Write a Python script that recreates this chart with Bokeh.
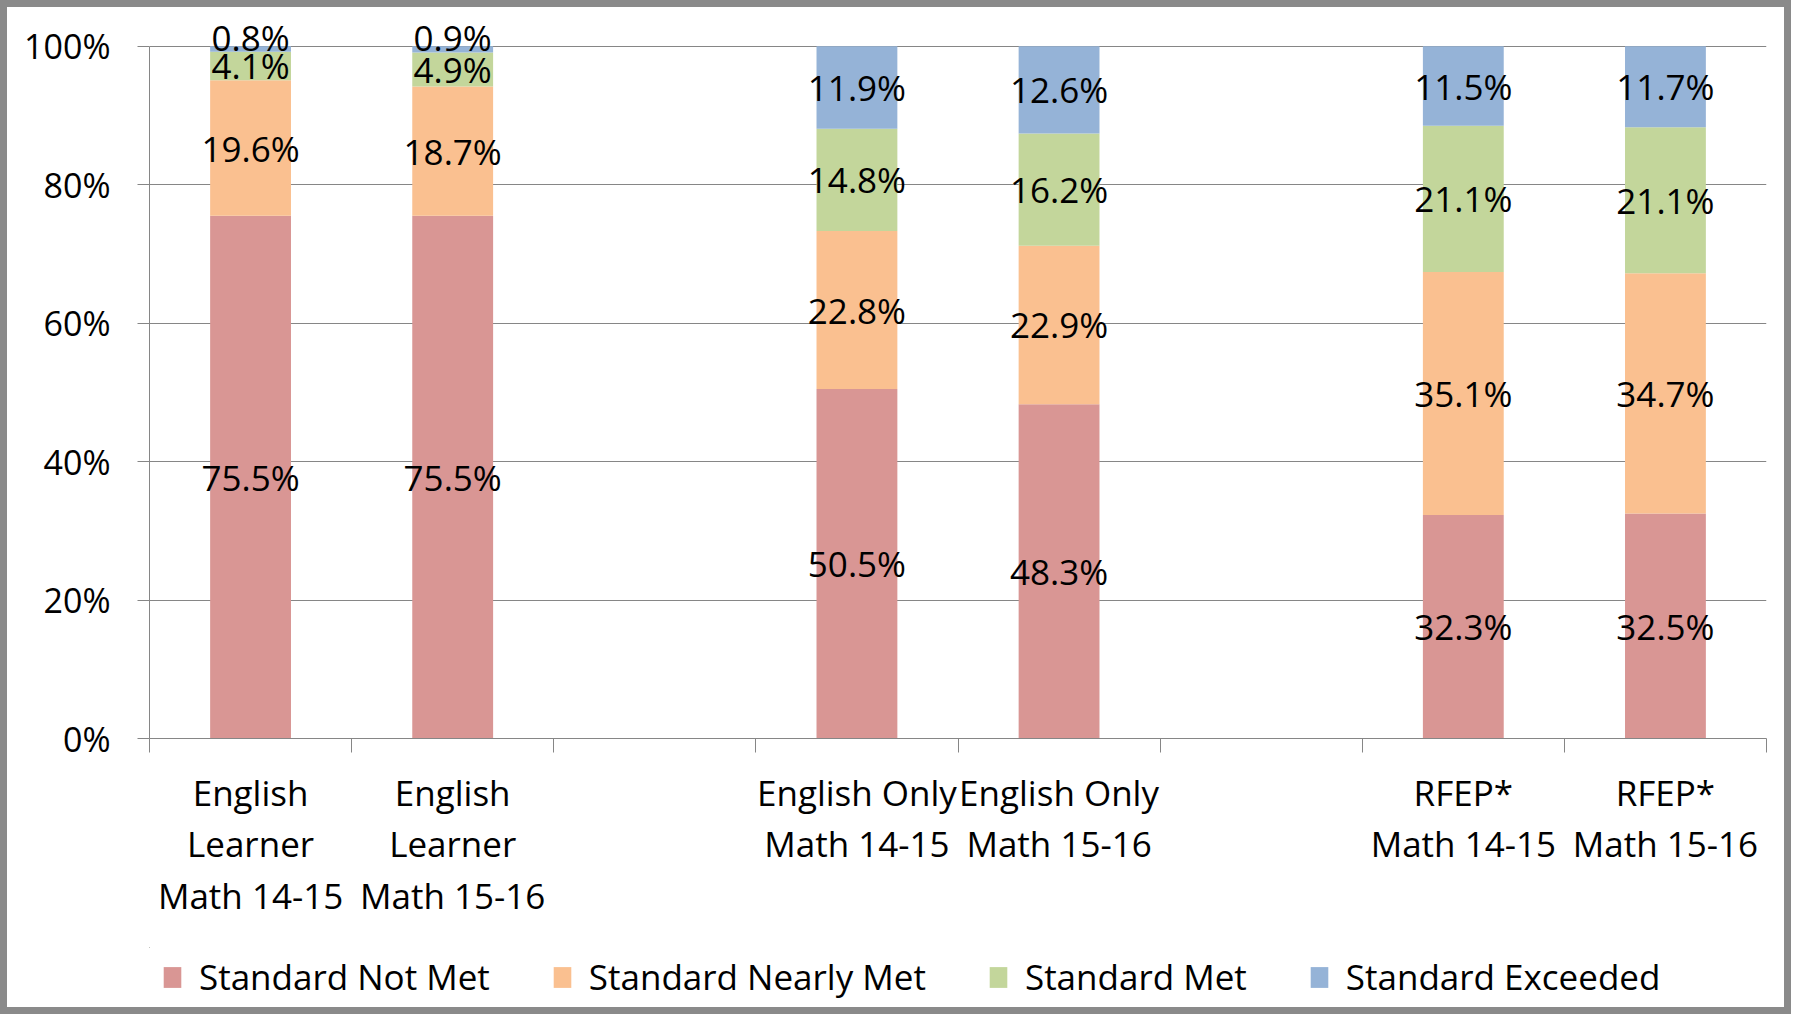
from bokeh.plotting import figure
from bokeh.layouts import column
from bokeh.models import (ColumnDataSource, FixedTicker, PrintfTickFormatter, Legend,
                          LegendItem, Range1d)
from bokeh.core.properties import value
from bokeh.embed import file_html
from bokeh.resources import INLINE

# ---- data ----
categories = ["English\nLearner\nMath 14-15", "English\nLearner\nMath 15-16",
              "English Only\nMath 14-15", "English Only\nMath 15-16",
              "RFEP*\nMath 14-15", "RFEP*\nMath 15-16"]
slot_index = [0, 1, 3, 4, 6, 7]   # slots on the category axis (2 and 5 are empty gaps)
n_slots = 8
not_met = [75.5, 75.5, 50.5, 48.3, 32.3, 32.5]
nearly_met = [19.6, 18.7, 22.8, 22.9, 35.1, 34.7]
met = [4.1, 4.9, 14.8, 16.2, 21.1, 21.1]
exceeded = [0.8, 0.9, 11.9, 12.6, 11.5, 11.7]
series_names = ["Standard Not Met", "Standard Nearly Met", "Standard Met", "Standard Exceeded"]
series_keys = ["not_met", "nearly_met", "met", "exceeded"]
colors = ["#D99694", "#FAC090", "#C3D69B", "#95B3D7"]
y_ticks = [0, 20, 40, 60, 80, 100]

FONT = "Open Sans"
FS = "34px"
FS_L = "35px"
GRAY = "#868686"
W = 1777

xc = [i + 0.5 for i in slot_index]
data = dict(x=xc, not_met=not_met, nearly_met=nearly_met, met=met, exceeded=exceeded)
source = ColumnDataSource(data)

p = figure(width=W, height=940, x_range=(0, n_slots), y_range=(0, 105.6),
           output_backend="svg", toolbar_location=None,
           min_border_left=142, min_border_right=18, min_border_top=0, min_border_bottom=209)
p.outline_line_color = None
p.background_fill_color = "white"
p.border_fill_color = "white"

renderers = p.vbar_stack(series_keys, x="x", width=0.4, color=colors, line_color=None,
                         source=source)

# data labels at segment centers
lx, ly, lt, loff = [], [], [], []
series_vals = [not_met, nearly_met, met, exceeded]
for j, x in enumerate(xc):
    base = 0.0
    for vals in series_vals:
        v = vals[j]
        lx.append(x)
        ly.append(base + v / 2)
        lt.append(f"{v:.1f}%")
        loff.append(-12 if v < 2 else 0)
        base += v
p.text(x=lx, y=ly, text=lt, y_offset=loff, text_align="center", text_baseline="middle",
       text_font=value(FONT), text_font_size=FS_L, text_color="black")

# y axis
ya = p.yaxis[0]
ya.ticker = FixedTicker(ticks=y_ticks)
ya.formatter = PrintfTickFormatter(format="%d%%")
ya.bounds = (0, 100)
ya.axis_line_color = GRAY
ya.major_tick_line_color = GRAY
ya.major_tick_out = 12
ya.major_tick_in = 0
ya.minor_tick_line_color = None
ya.major_label_standoff = 27
ya.major_label_text_font = FONT
ya.major_label_text_font_size = FS
ya.major_label_text_color = "black"

# x axis
xa = p.xaxis[0]
xa.ticker = FixedTicker(ticks=xc, minor_ticks=list(range(n_slots + 1)))
xa.major_label_overrides = {x: c for x, c in zip(xc, categories)}
xa.axis_line_color = GRAY
xa.major_tick_line_color = None
xa.major_tick_out = 0
xa.major_tick_in = 0
xa.minor_tick_line_color = GRAY
xa.minor_tick_out = 14
xa.minor_tick_in = 0
xa.major_label_standoff = 16
xa.major_label_text_font = FONT
xa.major_label_text_font_size = FS_L
xa.major_label_text_color = "black"
xa.major_label_text_line_height = 1.1

p.xgrid.grid_line_color = None
p.ygrid.ticker = FixedTicker(ticks=y_ticks)
p.ygrid.grid_line_color = GRAY

# legend in its own strip below the chart (the strip's ranges are far away from the
# series bars, so only their legend swatches show)
pl = figure(width=W, height=60, x_range=Range1d(1000, 1001), y_range=Range1d(-1000, -999),
            output_backend="svg", toolbar_location=None,
            min_border_left=0, min_border_right=0, min_border_top=0, min_border_bottom=0)
pl.axis.visible = False
pl.grid.grid_line_color = None
pl.outline_line_color = None
pl.border_fill_color = "white"
swatches = pl.vbar_stack(series_keys, x="x", width=0.4, color=colors, line_color=None,
                         source=source)
lg = Legend(items=[LegendItem(label=n, renderers=[r]) for n, r in zip(series_names, swatches)])
lg.orientation = "horizontal"
lg.location = (12, 7)
lg.border_line_color = None
lg.background_fill_alpha = 0
lg.padding = 0
lg.margin = 0
lg.spacing = 61
lg.glyph_width = 22
lg.glyph_height = 26
lg.label_standoff = 16
lg.label_text_font = FONT
lg.label_text_font_size = FS_L
lg.label_text_color = "black"
pl.add_layout(lg)

layout = column(p, pl, spacing=0, styles={"border": "7px solid #8a8a8a"})

open("out.html", "w").write(file_html(layout, INLINE))
